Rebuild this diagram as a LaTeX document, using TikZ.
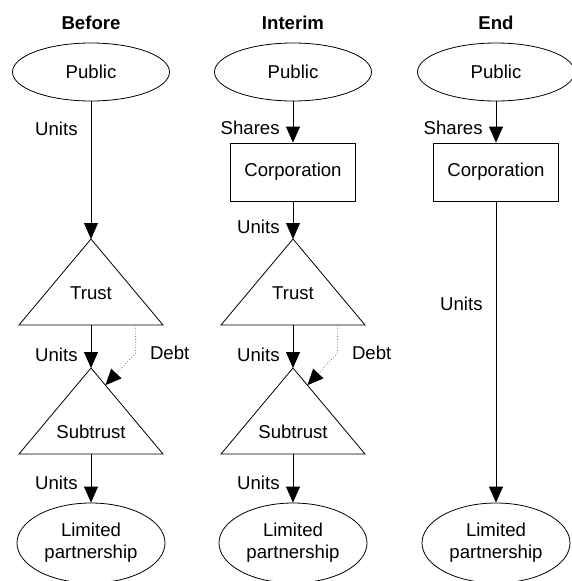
\documentclass[tikz,border=0pt]{standalone}
\usepackage{fontspec}
\setmainfont{Liberation Sans}
\usetikzlibrary{arrows.meta,shapes.geometric,calc}

\tikzset{
    party/.style={draw, ellipse, line width=0.8pt, minimum width=157pt, minimum height=58pt, inner sep=0pt},
    firm/.style={draw, line width=0.8pt, minimum width=125pt, minimum height=58pt},
    flow/.style={line width=0.8pt, -{Triangle[length=16pt,width=14pt]}},
    debtline/.style={gray, dotted, line width=0.8pt, -{Triangle[length=16pt,width=14pt,color=black]}},
    lbl/.style={left, inner sep=0pt, xshift=-13pt},
    debtlbl/.style={right, text=black, inner sep=0pt, xshift=14pt},
    ttl/.style={font=\fontsize{18.6}{22}\selectfont\bfseries}
}

\begin{document}
\begin{tikzpicture}[x=1pt,y=-1pt,font=\fontsize{18.6}{22}\selectfont]
    \useasboundingbox (0,0) rectangle (572,581);
    % before
    \node[ttl] (ttl1) at (91,23) {Before};
    \node[party] (pub1) at (91,72) {Public};
    \coordinate (t1a) at (91,239);
    \coordinate (t1l) at (19,325);
    \coordinate (t1r) at (163,325);
    \coordinate (t1b) at (91,325);
    \draw[line width=0.8pt] (t1a)--(t1l)--(t1r)--cycle;
    \node (trust1) at (91,293) {Trust};
    \coordinate (s1a) at (91,368);
    \coordinate (s1l) at (19,454);
    \coordinate (s1r) at (163,454);
    \coordinate (s1b) at (91,454);
    \draw[line width=0.8pt] (s1a)--(s1l)--(s1r)--cycle;
    \node (sub1) at (91,432) {Subtrust};
    \node[party, minimum width=148pt, minimum height=80pt, align=center] (lp1) at (91,543) {Limited\\partnership};
    \draw[flow] (pub1) -- node[lbl, pos=0.2] (u1a) {Units} (t1a);
    \draw[flow] (t1b) -- node[lbl, pos=0.7] (u1b) {Units} (s1a);
    \draw[flow] (s1b) -- node[lbl, pos=0.59] (u1c) {Units} (lp1);
    \draw[debtline] ($(t1l)!0.81!(t1r)$) -- ++(0,28) node[debtlbl] (d1) {Debt} -- ($(s1a)!0.2!(s1r)$);
    % interim
    \node[ttl] (ttl2) at (293,23) {Interim};
    \node[party] (pub2) at (293,72) {Public};
    \node[firm] (corp2) at (293,172) {Corporation};
    \coordinate (t2a) at (293,239);
    \coordinate (t2l) at (221,325);
    \coordinate (t2r) at (365,325);
    \coordinate (t2b) at (293,325);
    \draw[line width=0.8pt] (t2a)--(t2l)--(t2r)--cycle;
    \node (trust2) at (293,293) {Trust};
    \coordinate (s2a) at (293,368);
    \coordinate (s2l) at (221,454);
    \coordinate (s2r) at (365,454);
    \coordinate (s2b) at (293,454);
    \draw[line width=0.8pt] (s2a)--(s2l)--(s2r)--cycle;
    \node (sub2) at (293,432) {Subtrust};
    \node[party, minimum width=148pt, minimum height=80pt, align=center] (lp2) at (293,543) {Limited\\partnership};
    \draw[flow] (pub2) -- node[lbl, pos=0.64] (sh2) {Shares} (corp2);
    \draw[flow] (corp2) -- node[lbl, pos=0.68] (u2a) {Units} (t2a);
    \draw[flow] (t2b) -- node[lbl, pos=0.7] (u2b) {Units} (s2a);
    \draw[flow] (s2b) -- node[lbl, pos=0.59] (u2c) {Units} (lp2);
    \draw[debtline] ($(t2l)!0.81!(t2r)$) -- ++(0,28) node[debtlbl] (d2) {Debt} -- ($(s2a)!0.2!(s2r)$);
    % end
    \node[ttl] (ttl3) at (496,23) {End};
    \node[party] (pub3) at (496,72) {Public};
    \node[firm] (corp3) at (496,172) {Corporation};
    \node[party, minimum width=148pt, minimum height=80pt, align=center] (lp3) at (496,543) {Limited\\partnership};
    \draw[flow] (pub3) -- node[lbl, pos=0.64] (sh3) {Shares} (corp3);
    \draw[flow] (corp3) -- node[lbl, pos=0.34] (u3) {Units} (lp3);
\end{tikzpicture}
\end{document}
